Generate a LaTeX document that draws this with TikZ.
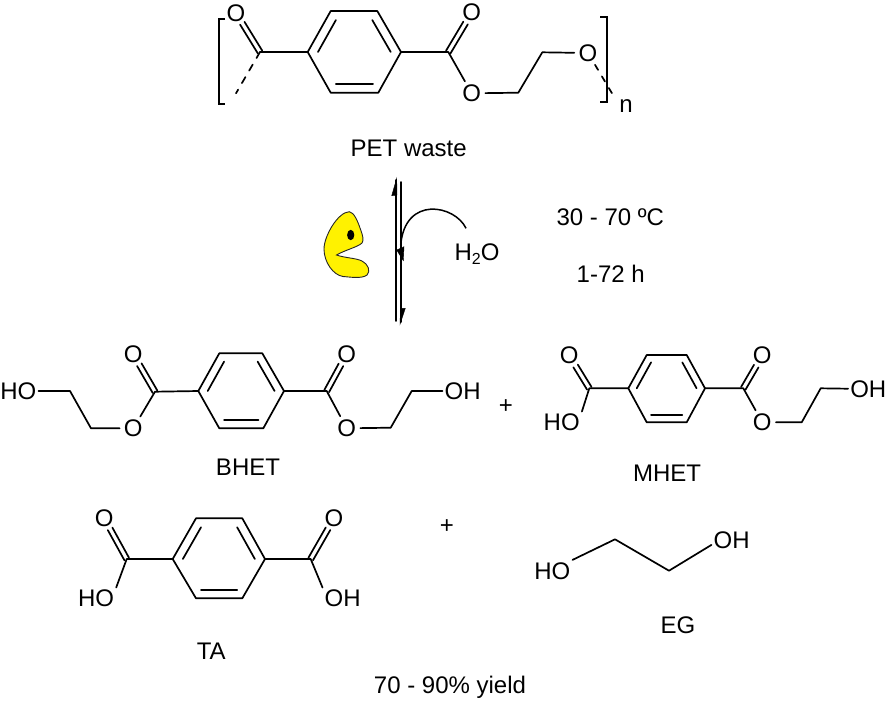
\documentclass[tikz,border=0pt]{standalone}
\usepackage{fontspec}
\setmainfont{Liberation Sans}
\usetikzlibrary{calc}
\tikzset{
  x=1pt,y=-1pt,
  every node/.style={font=\fontsize{24}{29}\selectfont,text=black},
  bondline/.style={line width=1.7pt,draw=black,line cap=round,line join=round},
  oxygen/.style={circle,inner sep=0pt,minimum size=27pt},
  hydroxyl/.style={inner sep=2pt,text height=17.2pt,text depth=0pt},
  label/.style={inner sep=0pt},
  bracketline/.style={line width=1.7pt,draw=black,line cap=butt,line join=miter},
  harpoon/.style={fill=black,draw=black,line width=.4pt},
}
% C=O double bond: #1 carbon, #2 oxygen node
\newcommand\carbonyl[2]{%
  \draw[bondline,shorten >=12pt] ($(#1)!2.6pt!90:(#2)$) -- ($(#2)!2.6pt!-90:(#1)$);
  \draw[bondline,shorten >=12pt] ($(#1)!2.6pt!-90:(#2)$) -- ($(#2)!2.6pt!90:(#1)$);}
% benzene ring from six named vertices with prefix #1, centre computed
\newcommand\benzene[1]{%
  \coordinate (#1ctr) at ($(#1L)!.5!(#1R)$);
  \draw[bondline] (#1L) -- (#1TL) -- (#1TR) -- (#1R) -- (#1BR) -- (#1BL) -- cycle;
  \draw[bondline] ($(#1L)!.22!(#1ctr)$) -- ($(#1TL)!.22!(#1ctr)$);
  \draw[bondline] ($(#1TR)!.22!(#1ctr)$) -- ($(#1R)!.22!(#1ctr)$);
  \draw[bondline] ($(#1BR)!.22!(#1ctr)$) -- ($(#1BL)!.22!(#1ctr)$);}
\begin{document}
\begin{tikzpicture}
\useasboundingbox (0,0) rectangle (888,702);

% ---------- PET ----------
\coordinate (pL) at (307.7,52); \coordinate (pTL) at (330.7,11);
\coordinate (pTR) at (377.3,11); \coordinate (pR) at (401,52);
\coordinate (pBR) at (378.3,92.7); \coordinate (pBL) at (330.7,92.7);
\benzene{p}
\coordinate (pc1) at (260,52);
\coordinate (pc2) at (448.3,52);
\coordinate (pch1) at (518.3,92.7);
\coordinate (pch2) at (542.3,52.3);
\coordinate (pfreeL) at (236,93.3);
\coordinate (pfreeR) at (613,95);
\node[oxygen] (po1) at (236,13) {O};
\node[oxygen] (po2) at (471.7,12.7) {O};
\node[oxygen] (po3) at (471.7,93.3) {O};
\node[oxygen] (po4) at (588,53) {O};
\carbonyl{pc1}{po1}
\carbonyl{pc2}{po2}
\draw[bondline] (pc1) -- (pL);
\draw[bondline] (pR) -- (pc2) -- (po3);
\draw[bondline] (po3) -- (pch1) -- (pch2) -- (po4);
\draw[bondline,dash pattern=on 7pt off 7.5pt] (pc1) -- (pfreeL);
\draw[bondline,dash pattern=on 6pt off 7.5pt] (po4) -- (pfreeR);
\coordinate (brL1) at (225,19); \coordinate (brL2) at (219,19);
\coordinate (brL3) at (219,104); \coordinate (brL4) at (225,104);
\draw[bracketline] (brL1) -- (brL2) -- (brL3) -- (brL4);
\coordinate (brR1) at (600,16.7); \coordinate (brR2) at (606.7,16.7);
\coordinate (brR3) at (606.7,101.7); \coordinate (brR4) at (600,101.7);
\draw[bracketline] (brR1) -- (brR2) -- (brR3) -- (brR4);
\node[label] (nn) at (626,106) {n};
\node[label] (petlabel) at (408.7,148.3) {PET waste};

% ---------- Equilibrium arrows ----------
\coordinate (upS) at (396,321); \coordinate (upE) at (396,180);
\coordinate (dnS) at (400.7,182); \coordinate (dnE) at (400.7,322);
\draw[bondline] (upS) -- (upE);
\draw[bondline] (dnS) -- (dnE);
\coordinate (upTip) at (396.7,178.3); \coordinate (upBarb) at (391.7,195.7); \coordinate (upIn) at (397,195);
\coordinate (dnTip) at (400,324.3); \coordinate (dnBarb) at (405.3,308.3); \coordinate (dnIn) at (400.5,308.3);
\fill[harpoon] (upTip) -- (upBarb) -- (upIn) -- cycle;
\fill[harpoon] (dnTip) -- (dnBarb) -- (dnIn) -- cycle;

% ---------- Water curved arrow ----------
\coordinate (cvS) at (466,228.3); \coordinate (cvE) at (400.7,245);
\draw[line width=1.5pt] (cvS) .. controls (455,205) and (405,195) .. (cvE);
\coordinate (cvTip) at (403.3,260.7); \coordinate (cvA) at (396.7,250); \coordinate (cvB) at (404,246.7);
\fill[harpoon] (cvTip) -- (cvA) -- (cvB) -- cycle;
\node[label] (water) at (477,254) {H\raisebox{-4.5pt}{\fontsize{16}{18}\selectfont 2}O};

% ---------- Enzyme ----------
\draw[fill=yellow,draw=black!85,line width=.9pt]
  (349.3,211.7) .. controls (354,212) and (358,222) .. (360,228)
  .. controls (363,236) and (364,240) .. (362,243)
  .. controls (358,247) and (345,250) .. (336.5,255)
  .. controls (345,258) and (356,258) .. (362,261)
  .. controls (368,264) and (371,271) .. (367,275)
  .. controls (362,279) and (350,277) .. (343,276.5)
  .. controls (333,275) and (324,262) .. (324,249)
  .. controls (324,236) and (338,212) .. (349.3,211.7) -- cycle;
\fill[black] (350.7,235) ellipse [x radius=3.6,y radius=5.2];

\node[label] (temp) at (610.3,217) {30 - 70 ºC};
\node[label] (time) at (610.7,273.7) {1-72 h};

% ---------- BHET ----------
\coordinate (bL) at (198.3,391); \coordinate (bTL) at (219.3,353.3);
\coordinate (bTR) at (262.3,353.3); \coordinate (bR) at (284,391);
\coordinate (bBR) at (263.3,428.3); \coordinate (bBL) at (219.3,428.3);
\benzene{b}
\coordinate (bc1) at (155,391.7); \coordinate (bc2) at (326.7,391);
\coordinate (bch1) at (70,391); \coordinate (bch2) at (91,428.3);
\coordinate (bch3) at (390.7,427.7); \coordinate (bch4) at (411.7,391);
\node[hydroxyl] (bho) at (18.3,391) {HO};
\node[hydroxyl] (boh) at (462.7,391) {OH};
\node[oxygen] (bo1) at (133.3,354.3) {O};
\node[oxygen] (bo2) at (133.3,428.3) {O};
\node[oxygen] (bo3) at (346.7,354.3) {O};
\node[oxygen] (bo4) at (346.7,428.3) {O};
\carbonyl{bc1}{bo1}
\carbonyl{bc2}{bo3}
\draw[bondline] (bho) -- (bch1) -- (bch2) -- (bo2) -- (bc1) -- (bL);
\draw[bondline] (bR) -- (bc2) -- (bo4) -- (bch3) -- (bch4) -- (boh);
\node[label] (bhet) at (248,467.3) {BHET};
\node[label] (plus1) at (506,407) {+};

% ---------- MHET ----------
\coordinate (mL) at (628.3,388.3); \coordinate (mTL) at (646.7,355);
\coordinate (mTR) at (686.7,355); \coordinate (mR) at (705,388.3);
\coordinate (mBR) at (686.7,422.3); \coordinate (mBL) at (646.7,422.3);
\benzene{m}
\coordinate (mc1) at (589.3,388.3); \coordinate (mc2) at (743.3,388.3);
\coordinate (mch1) at (801.7,422.3); \coordinate (mch2) at (820.7,388.3);
\node[oxygen] (mo1) at (569.3,355.7) {O};
\node[hydroxyl] (mho) at (561.7,422.3) {HO};
\node[oxygen] (mo2) at (762.3,355.7) {O};
\node[oxygen] (mo3) at (762.3,422.3) {O};
\node[hydroxyl] (moh) at (868.3,389) {OH};
\carbonyl{mc1}{mo1}
\carbonyl{mc2}{mo2}
\draw[bondline] (mho.north east) -- (mc1) -- (mL);
\draw[bondline] (mR) -- (mc2) -- (mo3) -- (mch1) -- (mch2) -- (moh);
\node[label] (mhet) at (667,473.3) {MHET};

% ---------- TA ----------
\coordinate (tL) at (172.7,559); \coordinate (tTL) at (196,518.3);
\coordinate (tTR) at (242.3,518.3); \coordinate (tR) at (265,559);
\coordinate (tBR) at (242.3,598.3); \coordinate (tBL) at (196,598.3);
\benzene{t}
\coordinate (tc1) at (126.7,559); \coordinate (tc2) at (310.7,559);
\node[oxygen] (to1) at (104.3,518.3) {O};
\node[oxygen] (to2) at (334,518.3) {O};
\node[hydroxyl] (tho) at (96,598.3) {HO};
\node[hydroxyl] (toh) at (342.7,598.3) {OH};
\carbonyl{tc1}{to1}
\carbonyl{tc2}{to2}
\draw[bondline] (tho.north east) -- (tc1) -- (tL);
\draw[bondline] (tR) -- (tc2) -- (toh.north west);
\node[label] (ta) at (211.3,651.7) {TA};
\node[label] (plus2) at (447,527) {+};

% ---------- EG ----------
\coordinate (ec1) at (615,539.3); \coordinate (ec2) at (669,570.7);
\node[hydroxyl] (eho) at (552.3,570.7) {HO};
\node[hydroxyl] (eoh) at (731.7,540) {OH};
\draw[bondline] (eho.north east) -- (ec1) -- (ec2) -- ($(eoh.west)!.45!(eoh.south west)$);
\node[label] (eg) at (678,625) {EG};

\node[label] (yield) at (450,687.5) {70 - 90\% yield};
\end{tikzpicture}
\end{document}
